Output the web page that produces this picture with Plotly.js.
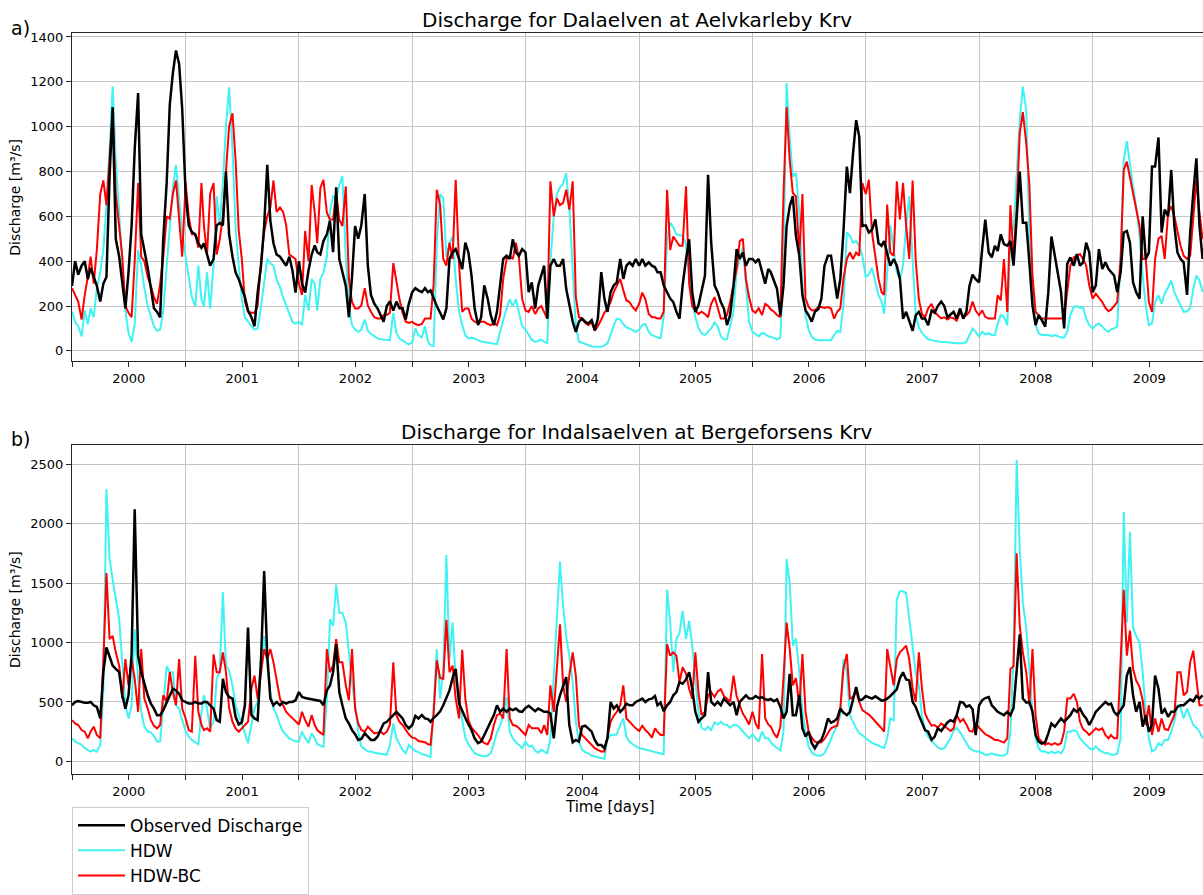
<!DOCTYPE html>
<html>
<head>
<meta charset="utf-8">
<script src="https://cdn.plot.ly/plotly-3.0.1.min.js"></script>
<style>
html,body{margin:0;padding:0;overflow:hidden;background:#ffffff;}
#chart{width:1210px;height:895px;}
</style>
</head>
<body>
<div id="chart"></div>
<script>
// ---------------- DATA (one value per ~10 days: 1st, 11th, 21st of each month) ----------------
const years = [2000,2001,2002,2003,2004,2005,2006,2007,2008,2009];
const yearLabels = ['2000','2001','2002','2003','2004','2005','2006','2007','2008','2009'];
const slotDays = [1, 11, 21];

const titleA = 'Discharge for Dalaelven at Aelvkarleby Krv';
const titleB = 'Discharge for Indalsaelven at Bergeforsens Krv';
const seriesNames = ['Observed Discharge', 'HDW', 'HDW-BC'];

// Panel a) Dalaelven at Aelvkarleby Krv
const obsA = [
290,400,340,380,400,320,370,330,290,220,300,330,778,1087,500,420,290,190,350,557,900,1150,520,450,370,280,190,174,150,500,750,1100,1240,1340,1280,1080,
700,560,530,520,480,460,480,430,380,410,560,570,560,800,520,420,350,320,280,240,180,150,110,260,380,557,830,580,480,430,420,400,380,420,360,260,
400,300,260,360,430,470,440,430,490,520,580,440,730,410,350,290,150,330,557,500,560,700,380,250,210,190,160,130,200,220,180,220,190,190,140,210,
262,280,270,262,280,262,270,230,200,170,140,189,410,439,454,410,365,483,439,336,189,115,150,292,233,159,115,174,292,410,424,410,498,439,424,454,
439,262,306,189,292,336,380,144,380,410,380,380,410,277,203,130,85,130,144,130,122,137,93,144,351,233,174,262,292,306,410,321,380,395,380,410,
380,410,380,395,380,373,351,351,292,262,233,218,174,144,292,410,498,262,174,203,262,336,785,483,292,262,218,189,115,159,292,454,410,439,380,410,
410,395,410,351,300,365,351,314,277,159,292,557,645,690,513,424,248,181,159,130,174,186,233,380,424,424,321,233,321,528,822,704,881,1029,955,557,
560,528,540,586,480,469,490,439,380,410,380,321,144,174,130,90,159,174,144,144,115,180,170,200,220,200,150,160,174,144,189,144,174,290,340,320,
306,454,586,439,417,469,446,520,476,469,490,380,586,800,572,572,395,203,115,159,137,108,262,510,424,336,262,100,388,417,380,432,380,395,483,439,
262,292,454,365,395,365,351,336,262,351,528,535,483,306,262,233,600,410,439,822,822,952,528,630,601,807,557,439,410,395,250,528,704,859,557,410
];
const hdwA = [
175,130,110,65,180,120,190,150,280,350,450,650,900,1180,850,600,380,180,80,40,120,450,380,280,200,150,110,90,95,180,380,560,730,830,680,530,
420,320,240,200,380,230,200,350,190,380,690,560,750,1000,1176,900,550,380,230,150,130,110,95,100,200,300,410,390,380,320,284,240,200,160,130,122,
130,115,250,180,320,300,180,320,350,420,620,690,680,740,780,410,200,115,95,85,95,140,90,75,65,56,52,50,48,48,170,80,55,45,35,28,
40,100,70,60,110,40,25,22,480,700,680,420,480,510,320,175,115,70,55,60,55,48,42,40,38,35,32,30,85,140,190,230,200,230,175,110,
95,70,50,40,45,50,40,35,400,600,700,730,745,793,640,330,110,42,36,30,25,20,19,19,19,25,35,70,115,144,140,120,105,100,92,85,
95,115,120,85,70,65,60,56,150,500,572,550,520,517,513,476,336,218,150,103,78,71,85,100,127,108,66,50,53,108,174,358,410,460,300,130,
85,75,65,80,75,65,62,58,50,60,420,1195,950,778,793,620,300,159,93,63,52,48,48,48,48,48,70,90,85,203,528,513,483,490,469,424,
330,340,370,300,250,220,165,350,560,450,350,320,380,560,690,400,160,105,80,65,52,48,45,42,40,40,38,37,35,34,34,34,40,68,100,85,
63,85,74,78,71,71,122,160,152,115,528,542,778,1029,1179,1073,513,292,115,78,71,71,71,66,71,66,60,60,85,159,196,200,192,196,144,115,
100,115,122,108,93,85,97,100,108,410,852,935,822,734,645,514,336,203,115,122,218,248,211,255,284,314,262,230,203,174,177,192,277,336,314,262
];
const bcA = [
280,250,220,140,250,330,420,300,450,700,760,650,850,1065,700,560,420,200,170,150,400,749,420,400,330,290,240,210,300,420,600,590,700,760,600,420,
749,600,520,520,460,749,557,430,700,749,430,498,600,820,1000,1060,850,540,410,220,175,170,170,200,400,530,600,640,760,620,640,620,560,430,420,410,
300,250,535,400,740,616,480,727,763,616,586,586,704,586,557,734,321,218,189,189,203,280,203,174,150,145,145,160,160,170,392,310,230,170,130,125,
130,120,115,120,144,144,144,300,719,650,410,380,483,410,763,380,174,189,189,144,130,125,130,130,120,115,125,115,159,321,410,424,410,483,410,233,
180,174,200,165,189,200,174,144,756,600,680,650,660,719,630,756,240,150,144,125,115,128,90,110,140,170,189,218,262,292,321,270,225,218,195,180,
210,260,230,165,150,150,144,144,174,719,450,510,490,469,469,734,300,200,180,165,175,165,150,210,240,190,144,144,160,218,292,365,490,500,320,240,
180,170,190,160,210,200,185,175,160,150,700,1087,850,704,690,430,700,233,196,181,181,196,196,192,196,189,144,174,189,321,410,439,410,439,424,749,
700,763,528,410,321,262,250,653,439,424,756,586,749,560,410,760,400,230,165,150,190,210,174,159,145,150,140,150,145,135,174,150,159,174,220,180,
159,181,152,144,144,144,248,225,410,174,650,410,630,970,1065,925,741,336,174,159,144,144,144,144,144,144,144,150,262,380,417,424,432,410,380,292,
233,255,236,218,192,177,184,200,218,410,807,844,778,704,645,557,410,410,218,174,410,500,513,410,616,645,600,528,469,424,410,424,616,763,616,498
];

// Panel b) Indalsaelven at Bergeforsens Krv
const obsB = [
472,500,508,500,494,494,500,472,458,361,750,958,889,806,778,750,556,444,556,900,2120,889,750,650,556,486,444,389,389,430,500,556,611,597,569,514,
500,486,486,500,486,486,500,500,472,444,347,333,694,583,542,528,375,311,328,472,1125,389,361,347,861,1600,889,528,472,500,472,500,486,500,500,514,
583,542,533,528,522,522,514,508,472,597,639,750,986,583,472,361,319,264,228,181,189,236,208,181,181,208,264,319,333,361,389,417,389,361,306,278,
306,383,361,389,361,356,333,367,389,422,472,533,597,700,778,486,422,367,311,264,194,153,167,222,292,333,389,472,417,444,417,444,431,444,422,417,
450,467,444,422,444,433,417,417,403,194,458,556,625,708,306,161,181,167,292,300,278,250,181,139,139,111,194,500,444,472,417,444,486,472,472,500,
514,528,500,522,528,550,472,494,422,472,500,556,583,667,653,689,750,611,417,333,361,389,750,500,472,500,472,528,500,472,500,389,500,528,556,528,
528,550,533,539,522,517,525,506,522,458,361,417,736,389,389,556,278,208,250,153,111,161,181,250,361,325,339,361,444,411,389,417,528,625,514,522,
550,542,528,547,528,511,514,528,550,578,606,700,750,689,681,500,458,389,319,264,250,181,208,278,256,292,328,347,333,389,500,494,458,472,439,222,
472,514,533,542,472,444,417,403,389,417,389,450,750,1069,528,494,500,417,222,167,150,161,236,319,292,328,361,333,361,389,439,417,444,394,361,306,
361,417,444,472,500,478,486,417,389,431,472,722,792,556,417,500,292,389,250,306,722,611,403,439,375,417,417,458,472,472,500,522,506,550,528,556
];
const hdwB = [
194,167,153,139,111,97,83,97,83,139,600,2290,1700,1528,1361,1194,833,472,361,472,1111,694,417,292,250,244,214,167,167,500,800,750,750,472,444,347,
256,208,181,161,144,417,556,444,278,333,694,750,1425,806,764,639,472,389,319,236,153,306,444,500,861,1056,806,583,444,394,306,250,222,194,181,167,
167,250,194,153,236,194,144,133,122,528,1194,1139,1486,1250,1250,1167,889,667,472,250,125,103,83,83,72,69,64,56,56,139,319,194,139,97,69,139,
111,89,78,61,56,47,36,472,944,528,778,1736,861,1167,694,500,347,200,144,103,69,56,47,42,50,69,153,244,300,389,542,250,194,161,139,111,
167,125,133,89,72,97,83,69,194,750,1250,1681,1306,1056,889,667,333,167,97,78,67,50,42,36,28,22,194,222,222,228,306,361,208,167,144,128,
111,106,100,94,89,83,78,69,61,1444,1167,750,1028,1078,1264,1028,1181,972,667,417,283,264,292,264,328,311,333,311,306,283,306,306,283,256,228,194,
228,194,167,250,194,194,161,133,111,92,250,1700,1500,972,1033,750,422,250,125,75,56,47,50,69,125,194,250,306,389,861,750,389,333,278,236,222,
194,172,156,144,131,119,111,194,361,347,1361,1430,1430,1417,1194,1000,750,639,389,264,208,172,144,117,103,111,153,194,256,283,244,200,144,111,97,83,
83,69,56,56,67,56,56,47,50,69,250,889,2536,1778,1333,1125,806,417,194,111,83,83,69,83,69,83,69,111,250,250,264,250,194,167,139,111,
97,125,97,83,69,69,56,56,64,194,2097,1167,1930,1125,1056,1000,750,417,194,83,97,153,133,181,181,250,333,472,458,361,444,375,306,283,250,194
];
const bcB = [
347,319,306,264,250,194,250,292,222,194,847,1583,1028,1056,917,806,528,861,639,861,694,417,944,528,444,347,300,278,306,556,500,750,583,472,861,444,
361,264,250,889,417,306,264,278,250,900,750,750,917,750,450,333,278,250,278,306,333,611,722,528,750,944,861,944,833,694,528,472,417,389,361,333,
311,417,347,292,389,306,264,242,222,944,750,806,1028,833,833,639,514,944,444,319,264,250,292,264,236,242,250,228,250,306,833,389,333,306,264,228,
200,194,172,167,161,144,139,400,850,700,694,1190,750,806,528,361,939,528,347,283,256,222,181,153,144,194,306,389,403,361,944,361,306,300,278,250,
222,306,278,278,278,236,306,222,639,417,800,1153,639,500,722,917,722,306,222,194,161,133,111,97,83,83,194,333,383,417,472,639,361,333,306,278,
256,300,264,236,200,278,250,222,222,986,889,917,889,667,792,736,611,528,917,583,389,417,556,583,542,589,606,550,528,500,722,550,472,403,361,311,
417,319,272,903,361,311,292,236,200,292,700,1167,950,639,700,472,903,417,250,200,167,158,161,189,236,278,292,300,444,778,903,528,542,589,500,431,
411,394,367,339,306,278,250,944,806,639,861,917,944,972,861,611,500,917,611,403,347,300,306,283,319,300,278,256,278,389,333,356,311,256,250,325,
283,256,228,214,197,181,181,172,158,194,778,800,1750,1139,917,750,472,944,389,194,167,139,153,139,153,139,153,250,528,528,569,500,333,272,250,222,
250,278,264,278,222,194,222,194,194,806,1444,889,1100,778,681,625,514,306,472,222,361,250,361,272,264,328,389,750,750,556,583,833,931,694,472,472
];

const yTicksA = [0,200,400,600,800,1000,1200,1400];
const yTicksB = [0,500,1000,1500,2000,2500];

// ---------------- BUILD ----------------
const pad = n => String(n).padStart(2, '0');
const dates = [];
years.forEach(y => { for (let m = 1; m <= 12; m++) slotDays.forEach(d => dates.push(y + '-' + pad(m) + '-' + pad(d))); });
const midYear = years.map(y => y + '-07-02');
const yearStart = years.map(y => y + '-01-01');

const colObs = '#000000', colHdw = '#40f2f2', colBc = '#ff0000';
const gridCol = '#c4c4c4', axisCol = '#262626';
const FONT = 'DejaVu Sans, Verdana, sans-serif';

function line(y, name, color, width, xa, ya, rank, showleg) {
  return {type: 'scatter', mode: 'lines', x: dates.slice(0, y.length), y: y, name: name,
          line: {color: color, width: width}, xaxis: xa, yaxis: ya,
          legendrank: rank, showlegend: showleg, hoverinfo: 'skip'};
}

const data = [
  line(hdwA, seriesNames[1], colHdw, 2, 'x', 'y', 2, true),
  line(bcA, seriesNames[2], colBc, 2, 'x', 'y', 3, true),
  line(obsA, seriesNames[0], colObs, 2.5, 'x', 'y', 1, true),
  line(hdwB, seriesNames[1], colHdw, 2, 'x2', 'y2', 2, false),
  line(bcB, seriesNames[2], colBc, 2, 'x2', 'y2', 3, false),
  line(obsB, seriesNames[0], colObs, 2.5, 'x2', 'y2', 1, false)
];

function xAxis(anchor) {
  return {
    type: 'date', domain: [0, 1], anchor: anchor,
    range: ['2000-01-01', '2010-01-01'],
    tickmode: 'array', tickvals: midYear, ticktext: yearLabels,
    ticks: 'outside', ticklen: 5, tickwidth: 1, tickcolor: axisCol,
    tickfont: {family: FONT, size: 13, color: '#000'},
    showgrid: false, zeroline: false,
    showline: true, linecolor: axisCol, linewidth: 1, mirror: true,
    minor: {tickmode: 'array', tickvals: yearStart, ticks: 'outside', ticklen: 5,
            tickwidth: 1, tickcolor: axisCol, showgrid: true, gridcolor: gridCol, gridwidth: 1},
    automargin: false, fixedrange: true
  };
}
function yAxis(anchor, domain, range, ticks) {
  return {
    domain: domain, anchor: anchor, range: range,
    tickmode: 'array', tickvals: ticks,
    ticks: 'outside', ticklen: 5, tickwidth: 1, tickcolor: axisCol,
    tickfont: {family: FONT, size: 13, color: '#000'},
    showgrid: true, gridcolor: gridCol, gridwidth: 1, zeroline: false,
    showline: true, linecolor: axisCol, linewidth: 1, mirror: true,
    title: {text: 'Discharge [m³/s]', font: {family: FONT, size: 14, color: '#000'}, standoff: 6},
    automargin: false, fixedrange: true
  };
}

const H = 895, L = 72, PW = 1134;
const px = x => (x - L) / PW;
const py = y => (H - y) / H;

const layout = {
  width: 1210, height: H,
  margin: {l: L, r: 4, t: 0, b: 0, pad: 0},
  paper_bgcolor: '#ffffff', plot_bgcolor: '#ffffff',
  font: {family: FONT, color: '#000'},
  showlegend: true,
  legend: {
    x: 0, xanchor: 'left', y: py(814), yanchor: 'top',
    bgcolor: 'rgba(255,255,255,0.85)', bordercolor: '#cccccc', borderwidth: 1,
    font: {family: FONT, size: 17, color: '#000'},
    itemwidth: 47
  },
  xaxis: xAxis('y'),
  yaxis: yAxis('x', [py(364.7), py(33.7)], [-47, 1416], yTicksA),
  xaxis2: xAxis('y2'),
  yaxis2: yAxis('x2', [py(781), py(449.3)], [-106, 2658], yTicksB),
  annotations: [
    {text: titleA, xref: 'paper', yref: 'paper', x: px(637), y: py(20), xanchor: 'center', yanchor: 'middle',
     showarrow: false, font: {family: FONT, size: 20, color: '#000'}},
    {text: titleB, xref: 'paper', yref: 'paper', x: px(637), y: py(436), xanchor: 'center', yanchor: 'middle',
     showarrow: false, font: {family: FONT, size: 20, color: '#000'}},
    {text: 'a)', xref: 'paper', yref: 'paper', x: px(9), y: py(28), xanchor: 'left', yanchor: 'middle',
     showarrow: false, font: {family: FONT, size: 19, color: '#000'}},
    {text: 'b)', xref: 'paper', yref: 'paper', x: px(9), y: py(443), xanchor: 'left', yanchor: 'middle',
     showarrow: false, font: {family: FONT, size: 19, color: '#000'}},
    {text: 'Time [days]', xref: 'paper', yref: 'paper', x: px(610), y: py(814), xanchor: 'center', yanchor: 'middle',
     showarrow: false, font: {family: FONT, size: 15, color: '#000'}}
  ]
};

Plotly.newPlot('chart', data, layout, {staticPlot: true, displayModeBar: false, responsive: false});
</script>
</body>
</html>
